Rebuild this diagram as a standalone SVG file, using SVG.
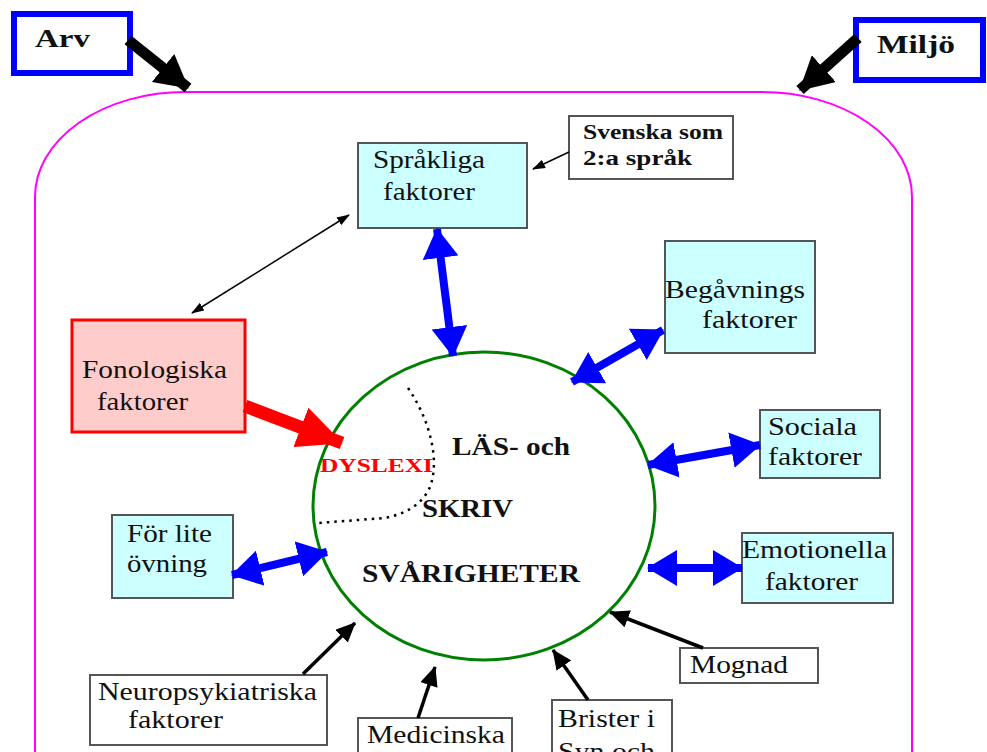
<svg xmlns="http://www.w3.org/2000/svg" width="987" height="752" viewBox="0 0 987 752">
<style>
  text { font-family: "Liberation Serif", "DejaVu Serif", serif; fill: #111; }
  .lbl { font-size: 26px; }
  .b { font-weight: bold; }
  .cyan { fill: #ccffff; stroke: #555; stroke-width: 2; }
  .white { fill: #ffffff; stroke: #555; stroke-width: 2; }
  .blue-box { fill: #ffffff; stroke: #0000ff; stroke-width: 6; }
  .blue { stroke: #0000ff; stroke-width: 8; fill: none; }
  .blk { stroke: #000; stroke-width: 3.5; fill: none; }
  .thin { stroke: #000; stroke-width: 1.5; fill: none; }
  .big { stroke: #000; stroke-width: 11; fill: none; }
  .red { stroke: #ff0000; stroke-width: 13; fill: none; }
</style>
<defs>
  <marker id="hBlue" markerUnits="userSpaceOnUse" viewBox="0 0 30 36" refX="29" refY="18" markerWidth="30" markerHeight="36" orient="auto-start-reverse">
    <path d="M0,0 L30,18 L0,36 z" fill="#0000ff"/>
  </marker>
  <marker id="hBlk" markerUnits="userSpaceOnUse" viewBox="0 0 20 18" refX="19" refY="9" markerWidth="20" markerHeight="18" orient="auto-start-reverse">
    <path d="M0,0 L20,9 L0,18 z" fill="#000"/>
  </marker>
  <marker id="hThin" markerUnits="userSpaceOnUse" viewBox="0 0 13 9" refX="12" refY="4.5" markerWidth="13" markerHeight="9" orient="auto-start-reverse">
    <path d="M0,0 L13,4.5 L0,9 z" fill="#000"/>
  </marker>
  <marker id="hBig" markerUnits="userSpaceOnUse" viewBox="0 0 33 36" refX="32" refY="18" markerWidth="33" markerHeight="36" orient="auto">
    <path d="M0,0 L33,18 L0,36 z" fill="#000"/>
  </marker>
  <marker id="hRed" markerUnits="userSpaceOnUse" viewBox="0 0 45 42" refX="44" refY="21" markerWidth="45" markerHeight="42" orient="auto">
    <path d="M0,0 L45,21 L0,42 z" fill="#ff0000"/>
  </marker>
</defs>

<rect width="987" height="752" fill="#ffffff"/>

<g id="frame">
  <rect x="35" y="92" width="877" height="820" rx="150" ry="105" fill="none" stroke="#ff00ff" stroke-width="2"/>
</g>

<g id="arv">
  <rect class="blue-box" x="14" y="14" width="116" height="59"/>
  <text class="b" x="35" y="47" font-size="26" textLength="55" lengthAdjust="spacingAndGlyphs">Arv</text>
</g>

<g id="miljo">
  <rect class="blue-box" x="856" y="20" width="127" height="60"/>
  <text class="b" x="877" y="53" font-size="26" textLength="78" lengthAdjust="spacingAndGlyphs">Miljö</text>
</g>

<g id="center">
  <ellipse cx="484" cy="506" rx="171" ry="154" fill="none" stroke="#008000" stroke-width="3"/>
  <path d="M408,388 C430,420 440,460 430,487 C422,505 405,514 385,518 L318,523" fill="none" stroke="#000" stroke-width="2.5" stroke-dasharray="2.5,5"/>
  <text class="b" x="452" y="455" font-size="25" textLength="118" lengthAdjust="spacingAndGlyphs">LÄS- och</text>
  <text class="b" x="422" y="517" font-size="25" textLength="91" lengthAdjust="spacingAndGlyphs">SKRIV</text>
  <text class="b" x="362" y="582" font-size="25" textLength="218" lengthAdjust="spacingAndGlyphs">SVÅRIGHETER</text>
  <text class="b" x="320" y="472" font-size="19" style="fill:#ff0000" textLength="113" lengthAdjust="spacingAndGlyphs">DYSLEXI</text>
</g>

<g id="sprakliga">
  <rect class="cyan" x="358" y="143" width="169" height="85"/>
  <text class="lbl" x="373" y="168" textLength="112" lengthAdjust="spacingAndGlyphs">Språkliga</text>
  <text class="lbl" x="383" y="200" textLength="92" lengthAdjust="spacingAndGlyphs">faktorer</text>
</g>

<g id="svenska">
  <rect class="white" x="569" y="116" width="164" height="63"/>
  <text class="b" x="583" y="139" font-size="20" textLength="140" lengthAdjust="spacingAndGlyphs">Svenska som</text>
  <text class="b" x="583" y="165" font-size="20" textLength="109" lengthAdjust="spacingAndGlyphs">2:a  språk</text>
</g>

<g id="fonologiska">
  <rect x="72" y="320" width="173" height="112" fill="#ffcccc" stroke="#ff0000" stroke-width="3"/>
  <text class="lbl" x="82" y="378" textLength="145" lengthAdjust="spacingAndGlyphs">Fonologiska</text>
  <text class="lbl" x="97" y="410" textLength="91" lengthAdjust="spacingAndGlyphs">faktorer</text>
</g>

<g id="begavnings">
  <rect class="cyan" x="665" y="241" width="150" height="112"/>
  <text class="lbl" x="665" y="298" textLength="140" lengthAdjust="spacingAndGlyphs">Begåvnings</text>
  <text class="lbl" x="702" y="328" textLength="95" lengthAdjust="spacingAndGlyphs">faktorer</text>
</g>

<g id="sociala">
  <rect class="cyan" x="760" y="410" width="120" height="68"/>
  <text class="lbl" x="768" y="435" textLength="89" lengthAdjust="spacingAndGlyphs">Sociala</text>
  <text class="lbl" x="768" y="465" textLength="94" lengthAdjust="spacingAndGlyphs">faktorer</text>
</g>

<g id="emotionella">
  <rect class="cyan" x="742" y="533" width="151" height="70"/>
  <text class="lbl" x="742" y="558" textLength="145" lengthAdjust="spacingAndGlyphs">Emotionella</text>
  <text class="lbl" x="765" y="590" textLength="93" lengthAdjust="spacingAndGlyphs">faktorer</text>
</g>

<g id="forlite">
  <rect class="cyan" x="112" y="515" width="121" height="83"/>
  <text class="lbl" x="127" y="542" textLength="85" lengthAdjust="spacingAndGlyphs">För lite</text>
  <text class="lbl" x="127" y="572" textLength="80" lengthAdjust="spacingAndGlyphs">övning</text>
</g>

<g id="neuropsykiatriska">
  <rect class="white" x="90" y="675" width="237" height="70"/>
  <text class="lbl" x="98" y="700" textLength="219" lengthAdjust="spacingAndGlyphs">Neuropsykiatriska</text>
  <text class="lbl" x="128" y="728" textLength="95" lengthAdjust="spacingAndGlyphs">faktorer</text>
</g>

<g id="medicinska">
  <rect class="white" x="358" y="718" width="154" height="60"/>
  <text class="lbl" x="367" y="743" textLength="138" lengthAdjust="spacingAndGlyphs">Medicinska</text>
</g>

<g id="brister">
  <rect class="white" x="552" y="700" width="120" height="80"/>
  <text class="lbl" x="558" y="727" textLength="97" lengthAdjust="spacingAndGlyphs">Brister i</text>
  <text class="lbl" x="558" y="760" textLength="97" lengthAdjust="spacingAndGlyphs">Syn och</text>
</g>

<g id="mognad">
  <rect class="white" x="680" y="648" width="138" height="35"/>
  <text class="lbl" x="690" y="673" textLength="98" lengthAdjust="spacingAndGlyphs">Mognad</text>
</g>

<g id="connectors">
  <line class="big" x1="128" y1="40" x2="188" y2="88" marker-end="url(#hBig)"/>
  <line class="big" x1="858" y1="38" x2="800" y2="90" marker-end="url(#hBig)"/>
  <line class="red" x1="245" y1="406" x2="342" y2="443" marker-end="url(#hRed)"/>
  <line class="thin" x1="569" y1="152" x2="533" y2="169" marker-end="url(#hThin)"/>
  <line class="thin" x1="349" y1="215" x2="192" y2="313" marker-start="url(#hThin)" marker-end="url(#hThin)"/>
  <line class="blue" x1="437" y1="229" x2="453" y2="356" marker-start="url(#hBlue)" marker-end="url(#hBlue)"/>
  <line class="blue" x1="663" y1="330" x2="572" y2="382" marker-start="url(#hBlue)" marker-end="url(#hBlue)"/>
  <line class="blue" x1="760" y1="445" x2="648" y2="465" marker-start="url(#hBlue)" marker-end="url(#hBlue)"/>
  <line class="blue" x1="742" y1="568" x2="648" y2="568" marker-start="url(#hBlue)" marker-end="url(#hBlue)"/>
  <line class="blue" x1="232" y1="575" x2="327" y2="552" marker-start="url(#hBlue)" marker-end="url(#hBlue)"/>
  <line class="blk" x1="303" y1="674" x2="355" y2="623" marker-end="url(#hBlk)"/>
  <line class="blk" x1="418" y1="718" x2="435" y2="667" marker-end="url(#hBlk)"/>
  <line class="blk" x1="588" y1="700" x2="553" y2="650" marker-end="url(#hBlk)"/>
  <line class="blk" x1="703" y1="648" x2="610" y2="612" marker-end="url(#hBlk)"/>
</g>
</svg>
